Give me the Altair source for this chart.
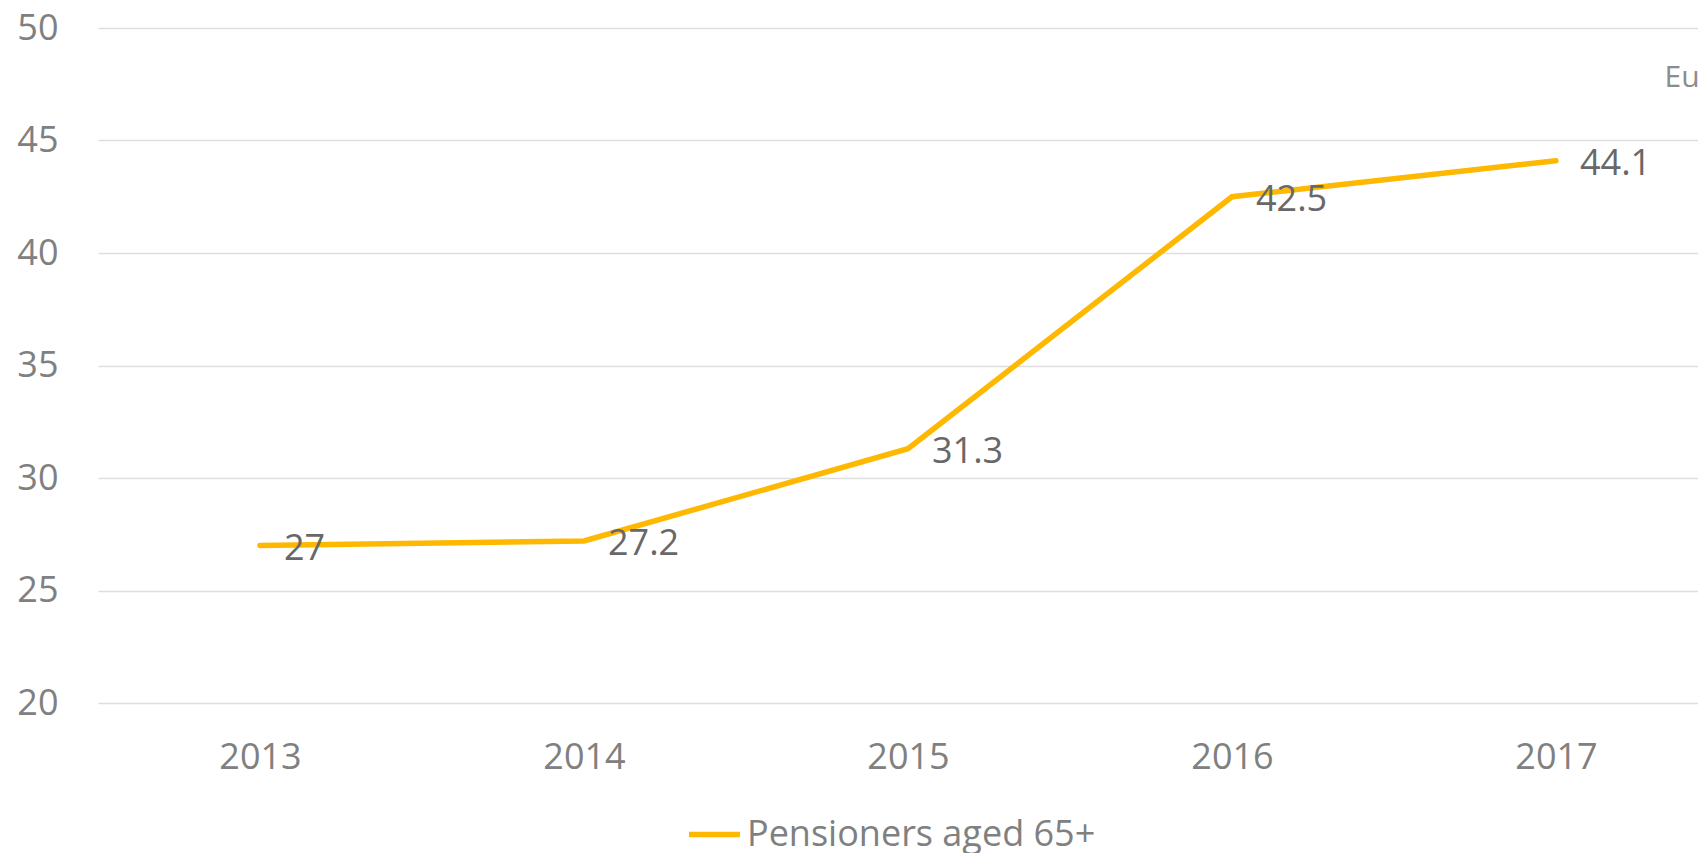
import altair as alt
import pandas as pd

years = [2013, 2014, 2015, 2016, 2017]
values = [27, 27.2, 31.3, 42.5, 44.1]
series = ["Pensioners aged 65+"] * 5

df = pd.DataFrame({"year": years, "value": values, "series": series})
note_df = pd.DataFrame({"year": [2017.335], "value": [47.78], "txt": ["Eu"]})

FONT = "Open Sans"
AX = "#808080"
LBL = "#686868"
GOLD = "#FFB800"

xscale = alt.Scale(domain=[2012.5, 2017.4383], nice=False, zero=False)
yscale = alt.Scale(domain=[20, 50], nice=False, zero=False)

base = alt.Chart(df)

line = base.mark_line(strokeWidth=5.5, strokeCap="round", clip=False).encode(
    x=alt.X("year:Q", scale=xscale,
            axis=alt.Axis(values=years, format="d", title=None, grid=False, domain=False,
                          ticks=False, labelFont=FONT, labelFontSize=36,
                          labelColor=AX, labelPadding=37, labelFlush=False)),
    y=alt.Y("value:Q", scale=yscale,
            axis=alt.Axis(values=[20, 25, 30, 35, 40, 45, 50], title=None, domain=False,
                          ticks=False, grid=True, gridColor="#dedede",
                          gridWidth=1.5, labelFont=FONT, labelFontSize=36, labelColor=AX,
                          labelPadding=40)),
    color=alt.Color("series:N", scale=alt.Scale(range=[GOLD]),
                    legend=alt.Legend(title=None, orient="none", legendX=588, legendY=778,
                                      symbolType="stroke", symbolSize=2600, symbolStrokeWidth=5.5,
                                      labelFont=FONT, labelFontSize=36, labelColor=AX,
                                      labelOffset=4, labelLimit=800)),
)

labels = base.mark_text(align="left", baseline="middle", dx=24, dy=3, font=FONT,
                        fontSize=36, color=LBL).encode(
    x=alt.X("year:Q", scale=xscale),
    y=alt.Y("value:Q", scale=yscale),
    text=alt.Text("value:Q", format="~g"),
)

note = alt.Chart(note_df).mark_text(align="left", baseline="middle", font=FONT,
                                     fontSize=30, color="#8c8c8c").encode(
    x=alt.X("year:Q", scale=xscale),
    y=alt.Y("value:Q", scale=yscale),
    text="txt:N",
)

chart = alt.layer(line, labels, note).properties(
    width=1600, height=675,
    background="white",
    autosize=alt.AutoSizeParams(type="none"),
    padding={"left": 98, "top": 28, "right": 0, "bottom": 150},
).configure_view(stroke="transparent", strokeWidth=0)

chart.save("out.html", embed_options={"renderer": "svg", "actions": False})
